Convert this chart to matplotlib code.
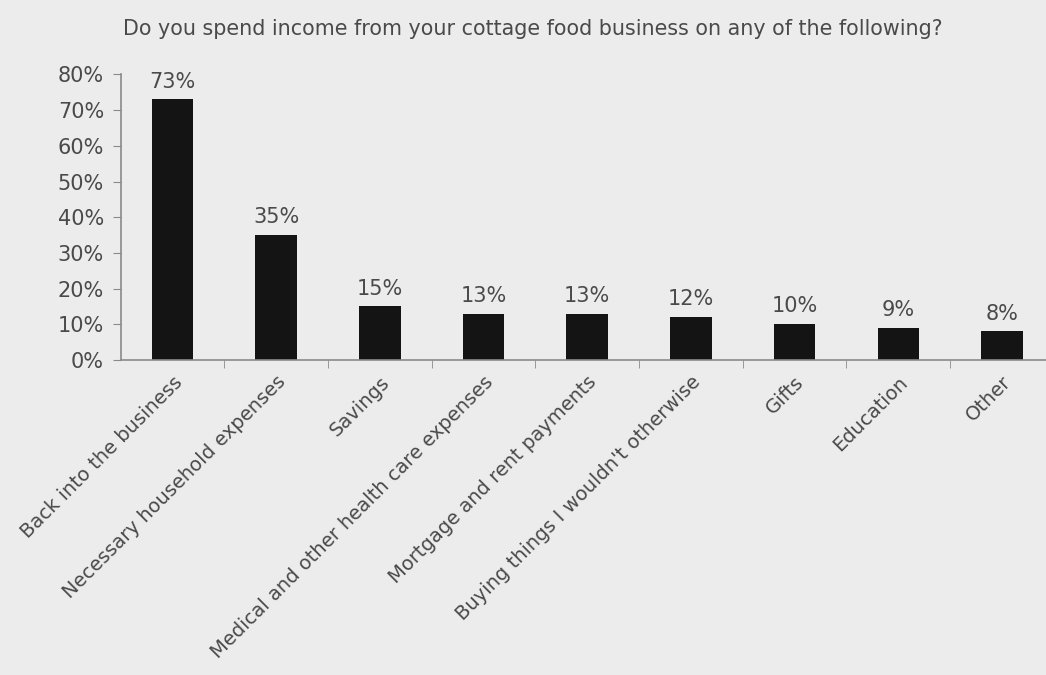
import matplotlib
matplotlib.use("Agg")
import matplotlib.pyplot as plt
import numpy as np

categories = [
    "Back into the business",
    "Necessary household expenses",
    "Savings",
    "Medical and other health care expenses",
    "Mortgage and rent payments",
    "Buying things I wouldn't otherwise",
    "Gifts",
    "Education",
    "Other",
]
values = [73, 35, 15, 13, 13, 12, 10, 9, 8]
y_ticks = [0, 10, 20, 30, 40, 50, 60, 70, 80]
title = "Do you spend income from your cottage food business on any of the following?"

text_color = "#4a4a4a"
bg = "#ececec"
plt.rcParams["font.family"] = ["DejaVu Sans"]

fig = plt.figure(figsize=(10.46, 6.75), dpi=100, facecolor=bg)
ax = fig.add_axes([0.1154, 0.4667, 0.892, 0.423])
ax.set_facecolor(bg)

x = np.arange(len(categories))
ax.bar(x, values, width=0.4, color="#141414", zorder=2)

for xi, v in zip(x, values):
    ax.text(xi, v + 2.2, f"{v}%", ha="center", va="bottom",
            fontsize=15, color=text_color)

ax.set_xlim(-0.5, len(categories) - 0.5)
ax.set_ylim(0, 80)
ax.set_yticks(y_ticks)
ax.set_yticklabels([f"{t}%" for t in y_ticks], fontsize=15, color=text_color)
ax.tick_params(axis="y", length=6, color="#8a8a8a", pad=6)

ax.set_xticks(x)
ax.set_xticklabels(categories, rotation=45, ha="right", rotation_mode="anchor",
                   fontsize=14, color=text_color)
ax.tick_params(axis="x", which="major", length=0, pad=9)
ax.set_xticks(x[:-1] + 0.5, minor=True)
ax.tick_params(axis="x", which="minor", length=6, color="#8a8a8a", direction="out")

for side in ("top", "right"):
    ax.spines[side].set_visible(False)
for side in ("left", "bottom"):
    ax.spines[side].set_color("#8a8a8a")
    ax.spines[side].set_linewidth(1.2)

fig.text(0.509, 0.957, title, ha="center", va="center", fontsize=14.9, color=text_color)

fig.savefig("out.png", dpi=100, facecolor=bg)
